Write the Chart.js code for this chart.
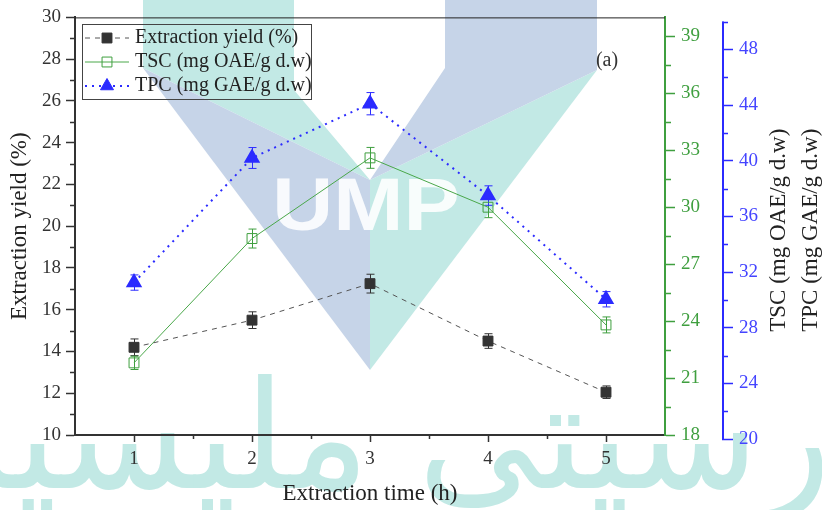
<!DOCTYPE html>
<html lang="en">
<head>
  <meta charset="UTF-8">
  <title>Extraction yield, TSC and TPC vs extraction time</title>
  <script src="https://cdn.jsdelivr.net/npm/chart.js"></script>
  <style>
    body { margin: 0; background: #fff; }
    canvas { display: block; }
  </style>
</head>
<body>
  <canvas id="grafico" width="822" height="510"></canvas>

  <script>
    // extraction time (h)
    const times = [1, 2, 3, 4, 5];

    // extraction yield (%) and its error bars
    const yieldValues = [14.2, 15.5, 17.25, 14.5, 12.05];
    const yieldErrors = [0.4, 0.4, 0.45, 0.35, 0.3];

    // TSC (mg OAE/g d.w)
    const tscValues = [21.8, 28.35, 32.6, 30.0, 23.8];
    const tscErrors = [0.35, 0.5, 0.55, 0.55, 0.42];

    // TPC (mg GAE/g d.w)
    const tpcValues = [31.25, 40.2, 44.1, 37.5, 30.05];
    const tpcErrors = [0.55, 0.75, 0.8, 0.7, 0.55];

    // tick values (major / minor) per axis
    const xTicks = [1, 2, 3, 4, 5];
    const xMinor = [1.5, 2.5, 3.5, 4.5];
    const yieldTicks = [10, 12, 14, 16, 18, 20, 22, 24, 26, 28, 30];
    const yieldMinor = [11, 13, 15, 17, 19, 21, 23, 25, 27, 29];
    const tscTicks = [18, 21, 24, 27, 30, 33, 36, 39];
    const tscMinor = [19.5, 22.5, 25.5, 28.5, 31.5, 34.5, 37.5];
    const tpcTicks = [20, 24, 28, 32, 36, 40, 44, 48];
    const tpcMinor = [22, 26, 30, 34, 38, 42, 46, 50];

    const SERIF = '"Liberation Serif", "Times New Roman", serif';
    const GREEN = '#3f9f3f';
    const BLUE = '#2b2bff';
    const DARK = '#333333';

    const pts = vals => times.map((t, i) => ({ x: t, y: vals[i] }));

    function poly(c, p) {
      c.beginPath();
      c.moveTo(p[0][0], p[0][1]);
      for (let i = 1; i < p.length; i++) c.lineTo(p[i][0], p[i][1]);
      c.closePath();
      c.fill();
    }

    // UMP logo watermark behind the plot
    const watermark = {
      id: 'watermark',
      beforeDraw(chart) {
        const c = chart.ctx;
        c.save();
        c.fillStyle = '#fff';
        c.fillRect(0, 0, chart.width, chart.height);

        c.fillStyle = '#c2e9e5';
        poly(c, [[143, 0], [294, 0], [294, 90], [370, 180], [143, 68]]);
        poly(c, [[370, 180], [597, 70], [370, 370]]);
        c.fillStyle = '#c6d4e8';
        poly(c, [[445, 0], [597, 0], [597, 70], [370, 180], [445, 68]]);
        poly(c, [[143, 68], [370, 180], [370, 370]]);

        c.save();
        c.translate(366, 230);
        c.scale(1.14, 1);
        c.fillStyle = 'rgba(255,255,255,0.88)';
        c.font = 'bold 74px "Liberation Sans", Arial, sans-serif';
        c.textAlign = 'center';
        c.textBaseline = 'alphabetic';
        c.fillText('UMP', 0, 0);
        c.restore();

        c.fillStyle = '#c2e9e5';
        c.font = '150px "DejaVu Sans", sans-serif';
        c.textAlign = 'center';
        c.direction = 'rtl';
        c.fillText('اونيۏرسيتي مليسيا ڤهڠ', 411, 488);
        c.restore();
      }
    };

    // vertical error bars, drawn under the markers
    const errorBars = {
      id: 'errorBars',
      beforeDatasetsDraw(chart) {
        const c = chart.ctx;
        c.save();
        chart.data.datasets.forEach((ds, i) => {
          const meta = chart.getDatasetMeta(i);
          const ys = chart.scales[ds.yAxisID];
          c.strokeStyle = ds.errorColor;
          c.lineWidth = 1;
          ds.errors.forEach((e, j) => {
            const x = Math.round(meta.data[j].x) + 0.5;
            const v = ds.data[j].y;
            const top = ys.getPixelForValue(v + e);
            const bot = ys.getPixelForValue(v - e);
            c.beginPath();
            c.moveTo(x, top); c.lineTo(x, bot);
            c.moveTo(x - 4, top); c.lineTo(x + 4, top);
            c.moveTo(x - 4, bot); c.lineTo(x + 4, bot);
            c.stroke();
          });
        });
        c.restore();
      }
    };

    function marker(c, style, x, y, r, fill, stroke) {
      c.beginPath();
      if (style === 'triangle') {
        c.moveTo(x, y - r);
        c.lineTo(x + r * 0.866, y + r / 2);
        c.lineTo(x - r * 0.866, y + r / 2);
        c.closePath();
      } else {
        const s = r * Math.SQRT1_2;
        c.rect(x - s, y - s, 2 * s, 2 * s);
      }
      c.fillStyle = fill;
      c.fill();
      c.strokeStyle = stroke;
      c.lineWidth = 1;
      c.stroke();
    }

    // minor ticks, frame lines, legend box, right-hand titles, panel label
    const decorations = {
      id: 'decorations',
      afterDraw(chart) {
        const c = chart.ctx;
        const a = chart.chartArea;
        c.save();

        const minor = (scale, values, len, color, side) => {
          c.strokeStyle = color;
          c.lineWidth = 1.5;
          c.beginPath();
          values.forEach(v => {
            const p = Math.round(scale.getPixelForValue(v)) + 0.5;
            if (side === 'bottom') { c.moveTo(p, scale.top); c.lineTo(p, scale.top + len); }
            else if (side === 'left') { c.moveTo(scale.right, p); c.lineTo(scale.right - len, p); }
            else { c.moveTo(scale.left, p); c.lineTo(scale.left + len, p); }
          });
          c.stroke();
        };
        minor(chart.scales.x, xMinor, 4, DARK, 'bottom');
        minor(chart.scales.y, yieldMinor, 5, DARK, 'left');
        minor(chart.scales.yTSC, tscMinor, 6, GREEN, 'right');
        minor(chart.scales.yTPC, tpcMinor, 6, BLUE, 'right');

        // TPC axis line runs from 20 to 50, slightly lower than the plot frame
        const tpc = chart.scales.yTPC;
        c.strokeStyle = BLUE;
        c.lineWidth = 2;
        c.beginPath();
        c.moveTo(tpc.left + 1, tpc.getPixelForValue(tpcTicks[0]));
        c.lineTo(tpc.left + 1, tpc.getPixelForValue(tpcMinor[tpcMinor.length - 1]));
        c.stroke();

        c.strokeStyle = '#222';
        c.lineWidth = 1;
        c.beginPath();
        c.moveTo(a.left, a.top + 0.5);
        c.lineTo(a.right, a.top + 0.5);
        c.stroke();

        // legend
        c.strokeStyle = '#444';
        c.strokeRect(82.5, 24.5, 229, 75);
        c.font = '20px ' + SERIF;
        c.textBaseline = 'middle';
        c.textAlign = 'left';
        chart.data.datasets.forEach((ds, i) => {
          const y = 38 + i * 24;
          c.save();
          c.strokeStyle = ds.borderColor;
          c.lineWidth = ds.borderWidth;
          c.setLineDash(ds.borderDash || []);
          c.beginPath();
          c.moveTo(85, y); c.lineTo(129, y);
          c.stroke();
          c.restore();
          marker(c, ds.pointStyle, 107, y, ds.pointRadius, ds.pointBackgroundColor, ds.pointBorderColor);
          c.fillStyle = '#222';
          c.fillText(ds.label, 135, y);
        });

        // titles of the two right axes
        const mid = (a.top + a.bottom) / 2 + 4;
        c.fillStyle = '#222';
        c.font = '23px ' + SERIF;
        c.textAlign = 'center';
        [['TSC (mg OAE/g d.w)', tpc.left + 57], ['TPC (mg GAE/g d.w)', tpc.left + 89]].forEach(([t, x]) => {
          c.save();
          c.translate(x, mid);
          c.rotate(-Math.PI / 2);
          c.fillText(t, 0, 0);
          c.restore();
        });

        c.font = '20px ' + SERIF;
        c.fillStyle = '#333';
        c.fillText('(a)', 607, 61);
        c.restore();
      }
    };

    const setTicks = values => scale => { scale.ticks = values.map(v => ({ value: v })); };

    const ctx = document.getElementById('grafico').getContext('2d');
    const chart = new Chart(ctx, {
      type: 'line',
      data: {
        datasets: [
          {
            label: 'Extraction yield (%)',
            data: pts(yieldValues),
            errors: yieldErrors,
            errorColor: DARK,
            yAxisID: 'y',
            borderColor: '#555',
            borderWidth: 1,
            borderDash: [5, 5],
            pointStyle: 'rect',
            pointRadius: 7,
            pointBackgroundColor: DARK,
            pointBorderColor: DARK,
            fill: false,
            tension: 0
          },
          {
            label: 'TSC (mg OAE/g d.w)',
            data: pts(tscValues),
            errors: tscErrors,
            errorColor: GREEN,
            yAxisID: 'yTSC',
            borderColor: '#4aa84a',
            borderWidth: 1,
            pointStyle: 'rect',
            pointRadius: 7,
            pointBackgroundColor: 'rgba(0,0,0,0)',
            pointBorderColor: GREEN,
            fill: false,
            tension: 0
          },
          {
            label: 'TPC (mg GAE/g d.w)',
            data: pts(tpcValues),
            errors: tpcErrors,
            errorColor: BLUE,
            yAxisID: 'yTPC',
            borderColor: BLUE,
            borderWidth: 2,
            borderDash: [2, 5],
            pointStyle: 'triangle',
            pointRadius: 7.5,
            pointBackgroundColor: BLUE,
            pointBorderColor: BLUE,
            fill: false,
            tension: 0
          }
        ]
      },
      options: {
        responsive: false,
        animation: false,
        devicePixelRatio: 1,
        layout: { padding: { top: 17, left: 0, right: 0, bottom: 0 } },
        plugins: { legend: { display: false }, tooltip: { enabled: false } },
        scales: {
          x: {
            type: 'linear',
            min: 0.5,
            max: 5.5,
            afterBuildTicks: setTicks(xTicks),
            afterFit: s => { s.height = 75; },
            border: { color: DARK, width: 2 },
            grid: { drawOnChartArea: false, tickLength: 7, tickColor: DARK, tickWidth: 1.5 },
            ticks: { color: DARK, font: { family: SERIF, size: 19 }, padding: 6, autoSkip: false, maxRotation: 0 },
            title: { display: true, text: 'Extraction time (h)', color: '#222', font: { family: SERIF, size: 23 }, padding: { bottom: 2 } }
          },
          y: {
            position: 'left',
            min: 10,
            max: 30,
            afterBuildTicks: setTicks(yieldTicks),
            afterFit: s => { s.width = 75; },
            border: { color: DARK, width: 2 },
            grid: { drawOnChartArea: false, tickLength: 9, tickColor: DARK, tickWidth: 1.5 },
            ticks: { color: DARK, font: { family: SERIF, size: 19 }, padding: 5, autoSkip: false },
            title: { display: true, text: 'Extraction yield (%)', color: '#222', font: { family: SERIF, size: 23 }, padding: { top: 6 } }
          },
          yTSC: {
            position: 'right',
            weight: 1,
            min: 18,
            max: 40,
            afterBuildTicks: setTicks(tscTicks),
            afterFit: s => { s.width = 57; },
            border: { color: GREEN, width: 2 },
            grid: { drawOnChartArea: false, tickLength: 10, tickColor: GREEN, tickWidth: 1.5 },
            ticks: { color: GREEN, font: { family: SERIF, size: 19 }, padding: 6, autoSkip: false }
          },
          yTPC: {
            position: 'right',
            weight: 2,
            // this axis sits a few pixels below the plot frame
            min: 20.3,
            max: 50.3,
            afterBuildTicks: setTicks(tpcTicks),
            afterFit: s => { s.width = 100; },
            border: { display: false },
            grid: { drawOnChartArea: false, tickLength: 11, tickColor: BLUE, tickWidth: 1.5 },
            ticks: { color: '#4444ff', font: { family: SERIF, size: 19 }, padding: 6, autoSkip: false }
          }
        }
      },
      plugins: [watermark, errorBars, decorations]
    });
  </script>
</body>
</html>
